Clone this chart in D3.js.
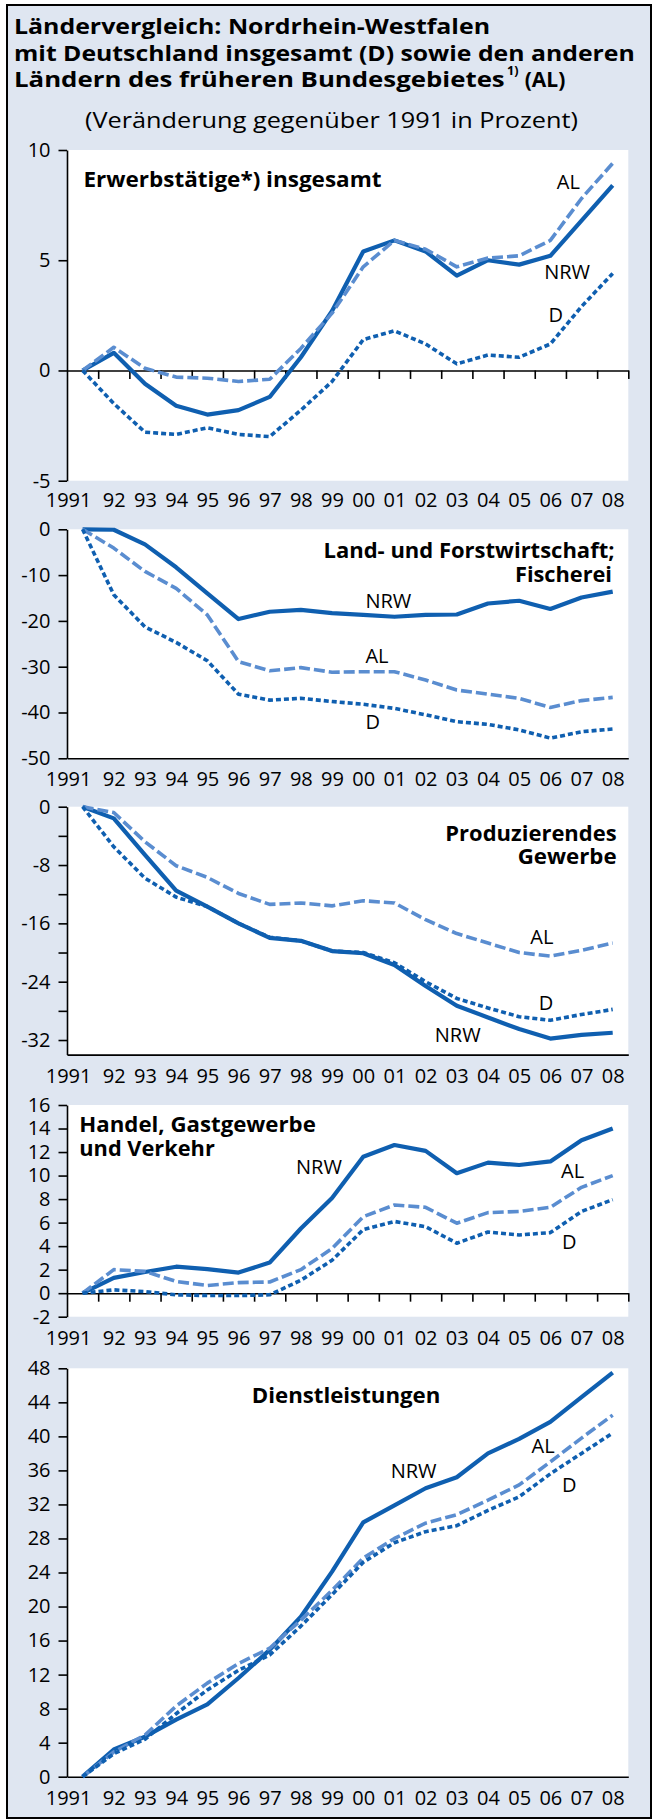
<!DOCTYPE html>
<html><head><meta charset="utf-8">
<script src="https://cdn.jsdelivr.net/npm/d3@7"></script>
<style>body{margin:0;background:#fff} svg{display:block}</style>
</head><body><svg id="c" width="658" height="1820"></svg>
<script>
// ---------- DATA ----------
const years = [1991,1992,1993,1994,1995,1996,1997,1998,1999,2000,2001,2002,2003,2004,2005,2006,2007,2008];
const yearLabels = ["1991","92","93","94","95","96","97","98","99","00","01","02","03","04","05","06","07","08"];

const erwTicks = [-5,0,5,10];
const erwNRW = [0,0.8,-0.6,-1.6,-2.0,-1.8,-1.2,0.6,2.7,5.4,5.9,5.4,4.3,5.0,4.8,5.2,6.8,8.4];
const erwAL  = [0,1.05,0.1,-0.3,-0.35,-0.5,-0.4,1.0,2.6,4.7,5.9,5.5,4.7,5.1,5.2,5.9,7.8,9.4];
const erwD   = [0,-1.5,-2.8,-2.9,-2.6,-2.9,-3.0,-1.8,-0.5,1.4,1.8,1.2,0.3,0.7,0.6,1.2,2.9,4.4];

const landTicks = [0,-10,-20,-30,-40,-50];
const landNRW = [0,-0.1,-3.3,-8.3,-14,-19.6,-18,-17.6,-18.3,-18.7,-19.1,-18.7,-18.6,-16.2,-15.6,-17.4,-14.9,-13.6];
const landAL  = [0,-4.1,-9.2,-12.9,-18.7,-28.9,-30.9,-30.2,-31.2,-31.1,-31.1,-32.9,-35.1,-36,-36.9,-38.9,-37.4,-36.7];
const landD   = [0,-14.3,-21.3,-24.7,-28.7,-36,-37.3,-36.9,-37.6,-38.2,-39.1,-40.5,-42,-42.6,-43.8,-45.6,-44.2,-43.6];

const prodTicks = [0,-4,-8,-12,-16,-20,-24,-28,-32];
const prodNRW = [0,-1.6,-6.6,-11.5,-13.7,-16,-18,-18.4,-19.8,-20.1,-21.7,-24.6,-27.3,-28.9,-30.5,-31.8,-31.3,-31];
const prodAL  = [0,-0.8,-4.8,-8.1,-9.7,-11.9,-13.4,-13.2,-13.6,-12.9,-13.2,-15.5,-17.4,-18.7,-20,-20.5,-19.7,-18.7];
const prodD   = [0,-5.5,-9.8,-12.4,-13.7,-16,-17.9,-18.4,-19.8,-20,-21.4,-24,-26.3,-27.6,-28.8,-29.3,-28.5,-27.8];

const handelTicks = [-2,0,2,4,6,8,10,12,14,16];
const handelNRW = [0,1.3,1.8,2.25,2.05,1.75,2.6,5.5,8.1,11.6,12.6,12.1,10.2,11.1,10.9,11.2,13,14];
const handelAL  = [0,2.0,1.85,1.0,0.65,0.9,0.95,2.0,3.8,6.5,7.5,7.3,5.95,6.85,6.95,7.3,9.0,10];
const handelD   = [0,0.28,0.14,-0.14,-0.2,-0.2,-0.14,1.1,2.8,5.4,6.1,5.65,4.25,5.2,4.95,5.15,6.95,7.95];

const dienstTicks = [0,4,8,12,16,20,24,28,32,36,40,44,48];
const dienstNRW = [0,3.2,4.7,6.7,8.5,11.6,14.9,18.8,24.1,29.9,31.9,33.9,35.2,38,39.7,41.7,44.6,47.5];
const dienstAL  = [0,2.9,4.9,8.3,11,13.3,15.1,18.4,21.9,25.7,28,29.8,30.8,32.5,34.3,37,39.8,42.5];
const dienstD   = [0,2.7,4.4,7.4,10.2,12.5,14.3,17.7,21.4,25.2,27.5,28.8,29.5,31.3,32.9,35.6,38,40.4];

const titleLines = ["Ländervergleich: Nordrhein-Westfalen","mit Deutschland insgesamt (D) sowie den anderen","Ländern des früheren Bundesgebietes"];
const subtitle = "(Veränderung gegenüber 1991 in Prozent)";

// ---------- LAYOUT / STYLE ----------
const FONT = "'Open Sans', 'Noto Sans', sans-serif";
const BG = "#dfe6f1";
const DARK = "#0f5fb0", LIGHT = "#5a8dd0";
const seriesStyle = [
  {name:"NRW", color:DARK, width:4.2, dash:null},
  {name:"AL", color:LIGHT, width:3.6, dash:"11,4"},
  {name:"D", color:DARK, width:3.6, dash:"5,3"}
];
const X0 = 67, X1 = 628.3;

const svg = d3.select("#c");
svg.append("rect").attr("x",7).attr("y",5).attr("width",644).attr("height",1813)
  .attr("fill",BG).attr("stroke","#000").attr("stroke-width",2);

// Title
const tl = [
  {t:titleLines[0], x:14, y:34, w:476},
  {t:titleLines[1], x:14, y:61, w:620.7},
  {t:titleLines[2], x:14, y:87, w:490.7}
];
tl.forEach(d => svg.append("text").attr("x",d.x).attr("y",d.y).text(d.t)
  .attr("font-family",FONT).attr("font-weight","bold").attr("font-size",21.5)
  .attr("textLength",d.w).attr("lengthAdjust","spacingAndGlyphs"));
svg.append("text").attr("x",507).attr("y",75).text("1)")
  .attr("font-family",FONT).attr("font-weight","bold").attr("font-size",13)
  .attr("textLength",11.5).attr("lengthAdjust","spacingAndGlyphs");
svg.append("text").attr("x",524.7).attr("y",87).text("(AL)")
  .attr("font-family",FONT).attr("font-weight","bold").attr("font-size",21.5)
  .attr("textLength",40.6).attr("lengthAdjust","spacingAndGlyphs");
svg.append("text").attr("x",85).attr("y",128).text(subtitle)
  .attr("font-family",FONT).attr("font-size",21.5)
  .attr("textLength",493).attr("lengthAdjust","spacingAndGlyphs");

const x = d3.scaleLinear().domain([1990.5, 2008.5]).range([X0, X1]);

const panels = [
  {ticks:erwTicks, domain:[-5,10], top:150, bot:480.7, axisAt:0, xTicks:true, lab:506.7,
   series:[erwNRW, erwAL, erwD],
   titles:[{t:"Erwerbstätige*) insgesamt", x:83.5, y:186.7, w:298, a:"start"}],
   labels:[{t:"AL",x:556.8,y:189},{t:"NRW",x:544.2,y:279},{t:"D",x:548.4,y:321.7}]},
  {ticks:landTicks, domain:[-50,0], top:529.3, bot:758.3, axisAt:-50, xTicks:false, lab:786,
   series:[landNRW, landAL, landD],
   titles:[{t:"Land- und Forstwirtschaft;", x:614.5, y:558.3, w:291, a:"end"},
           {t:"Fischerei", x:612, y:581.7, w:97, a:"end"}],
   labels:[{t:"NRW",x:365.4,y:607.7},{t:"AL",x:365.4,y:662.7},{t:"D",x:365.4,y:729.3}]},
  {ticks:prodTicks, domain:[-34,0], top:806.7, bot:1054.6, axisAt:-34, xTicks:false, lab:1082.7,
   series:[prodNRW, prodAL, prodD], every8:true,
   titles:[{t:"Produzierendes", x:616.6, y:840.7, w:171.3, a:"end"},
           {t:"Gewerbe", x:616.6, y:863.6, w:98.9, a:"end"}],
   labels:[{t:"AL",x:530.3,y:944},{t:"D",x:538.8,y:1010},{t:"NRW",x:434.8,y:1042}]},
  {ticks:handelTicks, domain:[-2,16], top:1105, bot:1316.7, axisAt:0, xTicks:true, lab:1345,
   series:[handelNRW, handelAL, handelD],
   titles:[{t:"Handel, Gastgewerbe", x:79.3, y:1132.3, w:236.5, a:"start"},
           {t:"und Verkehr", x:79.3, y:1156, w:135.5, a:"start"}],
   labels:[{t:"NRW",x:296,y:1174},{t:"AL",x:561,y:1178.3},{t:"D",x:561.9,y:1249.3}]},
  {ticks:dienstTicks, domain:[0,48], top:1368.3, bot:1776.7, axisAt:0, xTicks:false, lab:1805,
   series:[dienstNRW, dienstAL, dienstD],
   titles:[{t:"Dienstleistungen", x:251.8, y:1403.3, w:188.5, a:"start"}],
   labels:[{t:"NRW",x:390.7,y:1478},{t:"AL",x:531.6,y:1453.3},{t:"D",x:561.9,y:1492}]}
];

panels.forEach(p => {
  const g = svg.append("g");
  const y = d3.scaleLinear().domain(p.domain).range([p.bot, p.top]);
  g.append("rect").attr("x",X0).attr("y",p.top).attr("width",X1-X0).attr("height",p.bot-p.top).attr("fill","#fff");

  // y axis
  const ya = g.append("g").attr("transform",`translate(${X0},0)`)
    .call(d3.axisLeft(y).tickValues(p.ticks).tickSize(8.5).tickSizeOuter(0).tickPadding(8)
      .tickFormat(d => p.every8 ? (d % 8 === 0 ? String(d) : "") : String(d)));
  ya.attr("font-family",FONT).attr("font-size",20);
  ya.selectAll("path,line").attr("stroke","#000").attr("stroke-width",1.6);
  ya.selectAll("text").attr("fill","#000");

  // x axis line with ticks between years
  const boundaries = years.map(v => v + 0.5);
  const xa = g.append("g").attr("transform",`translate(0,${y(p.axisAt)})`)
    .call(d3.axisBottom(x).tickValues(p.xTicks ? boundaries : []).tickSize(8.5).tickSizeOuter(0).tickFormat(""));
  xa.selectAll("path,line").attr("stroke","#000").attr("stroke-width",1.6);

  // x labels
  const xl = g.append("g").attr("transform",`translate(0,${p.lab})`)
    .call(d3.axisBottom(x).tickValues(years).tickSize(0).tickFormat((d,i) => yearLabels[i]));
  xl.select(".domain").remove();
  xl.attr("font-family",FONT).attr("font-size",20);
  xl.selectAll("text").attr("y",0).attr("dy",0).attr("fill","#000");
  xl.selectAll("text").filter((d,i) => i === 0).attr("text-anchor","end").attr("dx",8.4);

  // lines
  const line = d3.line().x((d,i) => x(years[i])).y(d => y(d));
  p.series.forEach((s, k) => {
    const st = seriesStyle[k];
    g.append("path").datum(s).attr("d", line).attr("fill","none")
      .attr("stroke", st.color).attr("stroke-width", st.width)
      .attr("stroke-linejoin","round")
      .attr("stroke-dasharray", st.dash);
  });

  // titles
  p.titles.forEach(t => g.append("text").attr("x",t.x).attr("y",t.y).attr("text-anchor",t.a)
    .attr("font-family",FONT).attr("font-weight","bold").attr("font-size",20.5)
    .attr("textLength",t.w).attr("lengthAdjust","spacingAndGlyphs").text(t.t));

  // series labels
  p.labels.forEach(l => g.append("text").attr("x",l.x).attr("y",l.y)
    .attr("font-family",FONT).attr("font-size",20).attr("fill","#000").text(l.t));
});
</script>
</body></html>
